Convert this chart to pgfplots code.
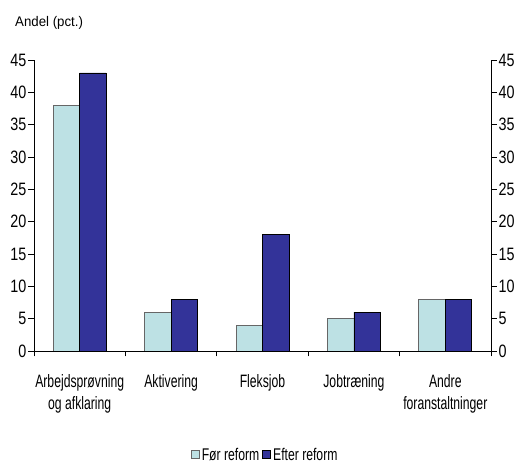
\documentclass[border=0pt]{standalone}
\usepackage{fontspec}
\setmainfont{Liberation Sans}[FakeStretch=0.95]
\newfontfamily\catfont{Liberation Sans}[FakeStretch=0.68]
\newfontfamily\numfont{Liberation Sans}[FakeStretch=0.8]
\newfontfamily\legfont{Liberation Sans}[FakeStretch=0.72]
\usepackage{pgfplots}
\pgfplotsset{compat=1.18}
\definecolor{lightc}{HTML}{BDE1E4}
\definecolor{darkc}{HTML}{333399}
\begin{document}
\begin{tikzpicture}
\pgfplotsset{
  common/.style={
    scale only axis, width=457bp, height=291bp,
    xmin=-0.5, xmax=4.5, ymin=0, ymax=45,
    ytick={0,5,...,45},
    tick align=outside, major tick length=5.5bp,
    /pgf/number format/assume math mode=true,
    yticklabel style={font=\numfont\fontsize{18}{18}\selectfont, inner sep=2bp},
    axis line style={black, line width=0.8pt},
    tick style={black, line width=0.8pt},
  }
}
\begin{axis}[common, name=ax, at={(0,0)}, anchor=south west,
  axis x line*=bottom, axis y line*=left,
  ybar=0pt, bar width=26.5bp,
  xtick={-0.5,0.5,1.5,2.5,3.5,4.5},
  xticklabels={{Arbejdsprøvning\\og afklaring},Aktivering,Fleksjob,Jobtræning,{Andre\\foranstaltninger},{}},
  xticklabel style={xshift=45.7bp, align=center, font=\catfont\fontsize{18}{23}\selectfont, yshift=-14bp},
  legend style={at={(0.506,-0.357)}, anchor=center, draw=none, legend columns=2,
    font=\legfont\fontsize{17}{17}\selectfont, inner sep=0pt,
    /tikz/every even column/.append style={column sep=1bp}},
  legend image code/.code={\draw[#1] (0bp,-4bp) rectangle (8bp,4bp);},
]
\addplot[fill=lightc, draw=black!60, line width=0.8pt] coordinates {(0,38) (1,6) (2,4) (3,5) (4,8)};
\addplot[fill=darkc, draw=black, line width=0.8pt] coordinates {(0,43) (1,8) (2,18) (3,6) (4,8)};
\legend{Før reform, Efter reform}
\end{axis}
\begin{axis}[common, at={(0,0)}, anchor=south west,
  axis x line=none, axis y line*=right, xtick=\empty]
\end{axis}
\node[anchor=west, inner sep=0pt, font=\fontsize{14}{14}\selectfont] at ([shift={(-19bp,37bp)}]ax.north west) {Andel (pct.)};
\pgfresetboundingbox
\path ([shift={(-34bp,-112bp)}]ax.south west) rectangle ([shift={(27bp,60bp)}]ax.north east);
\end{tikzpicture}
\end{document}
